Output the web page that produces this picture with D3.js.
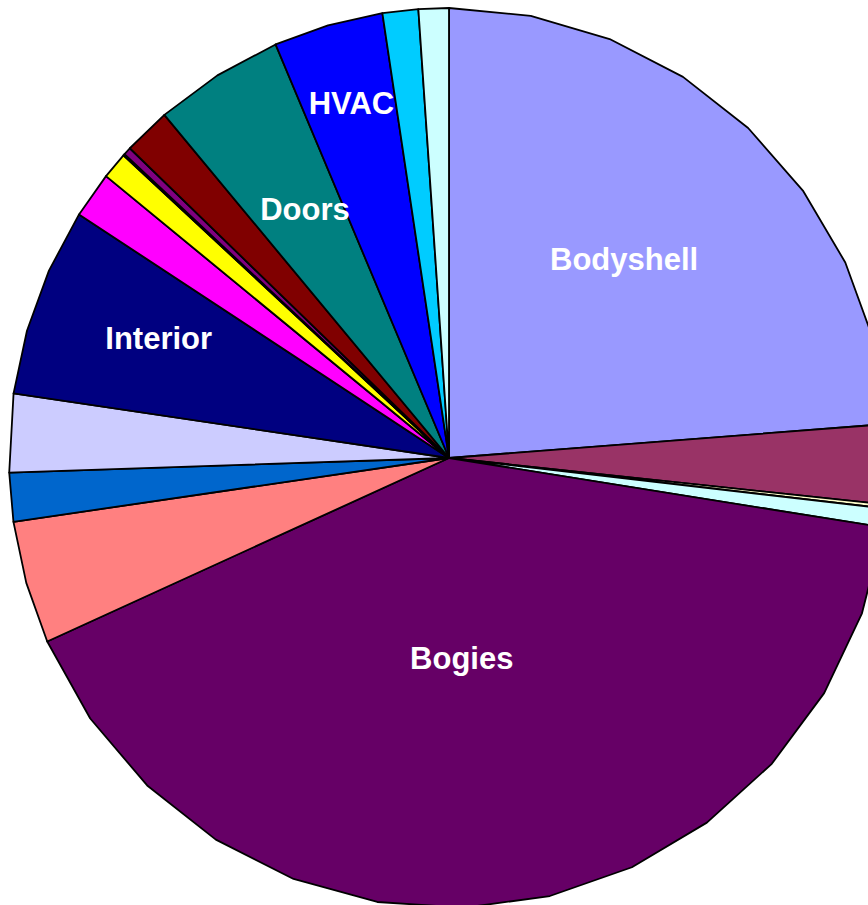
<!DOCTYPE html>
<html>
<head>
<meta charset="utf-8">
<script src="https://cdn.jsdelivr.net/npm/d3@7"></script>
<style>
    html, body { margin: 0; padding: 0; background: #fff; overflow: hidden; }
    .slice-label { font-family: "Liberation Sans", Arial, sans-serif; font-weight: bold; font-size: 31px; fill: #fff; }
</style>
</head>
<body>
<div id="chart"></div>
<script>
// share of cost per component (%), clockwise from 12 o'clock
const components = ['Bodyshell', 'c2', 'c3', 'c4', 'Bogies', 'c6', 'c7', 'c8', 'Interior',
    'c10', 'c11', 'c12', 'c13', 'c14', 'Doors', 'HVAC', 'c17', 'c18'];
const shares = [23.8, 2.86, 0.14, 0.67, 40.86, 4.42, 1.75, 2.81, 6.81,
    1.67, 0.97, 0.06, 0.28, 1.72, 4.75, 4.03, 1.31, 1.11];
const shownLabels = ['Bodyshell', 'Bogies', 'Interior', 'Doors', 'HVAC'];

// excel default fill palette
const palette = ['#9999FF', '#993366', '#FFFFCC', '#CCFFFF', '#660066', '#FF8080', '#0066CC', '#CCCCFF', '#000080',
    '#FF00FF', '#FFFF00', '#00FFFF', '#800080', '#800000', '#008080', '#0000FF', '#00CCFF', '#CCFFFF'];

const width = 868;
const height = 905;
const cx = 449, cy = 458;
const rx = 440, ry = 450;
const maxStep = 12 * Math.PI / 180;   // polygonal edge like the exported chart
// label placement: radius factor and angle shift (deg) from slice middle
const labelLayout = {
    Bodyshell: { r: 0.595, shift: -0.85 },
    Bogies: { r: 0.445, shift: 3.85 },
    Interior: { r: 0.712, shift: 1.55 },
    Doors: { r: 0.643, shift: 1.15 },
    HVAC: { r: 0.819, shift: 0.25 }
};

let svg = d3.select('#chart')
    .append('svg')
    .attr('width', width)
    .attr('height', height)
    .append('g')
    .attr('transform', 'translate(' + cx + ',' + cy + ')');

let pie = d3.pie().sort(null).value(d => d.value);
let color = d3.scaleOrdinal().domain(components).range(palette);

let data = components.map((name, i) => ({ name: name, value: shares[i] }));
let arcs = pie(data);

function pt(a, k) {
    return [k * rx * Math.sin(a), -k * ry * Math.cos(a)];
}

function slicePath(d) {
    let p = d3.path();
    p.moveTo(0, 0);
    let span = d.endAngle - d.startAngle;
    let n = Math.max(1, Math.ceil(span / maxStep));
    for (let i = 0; i <= n; i++) {
        let q = pt(d.startAngle + span * i / n, 1);
        p.lineTo(q[0], q[1]);
    }
    p.closePath();
    return p.toString();
}

function labelPoint(d) {
    let l = labelLayout[d.data.name];
    let a = (d.startAngle + d.endAngle) / 2 + l.shift * Math.PI / 180;
    return pt(a, l.r);
}

svg.selectAll('.slice')
    .data(arcs)
    .enter().append('path')
    .attr('class', 'slice')
    .attr('d', slicePath)
    .style('fill', d => color(d.data.name))
    .style('stroke', '#000')
    .style('stroke-width', 1.8)
    .style('stroke-linejoin', 'round');

svg.selectAll('.slice-label')
    .data(arcs.filter(d => shownLabels.includes(d.data.name)))
    .enter().append('text')
    .attr('class', 'slice-label')
    .attr('text-anchor', 'middle')
    .attr('x', d => labelPoint(d)[0])
    .attr('y', d => labelPoint(d)[1] + 11)
    .text(d => d.data.name);
</script>
</body>
</html>
